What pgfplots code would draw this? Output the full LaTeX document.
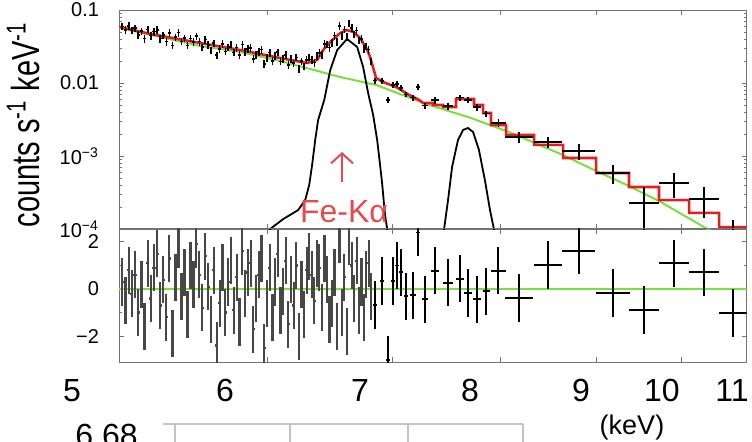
\documentclass[border=0pt]{standalone}
\usepackage{fontspec}
\setmainfont{Liberation Sans}
\usepackage{graphicx}
\usepackage{pgfplots}
\pgfplotsset{compat=1.18}
\usepackage{pgfplotstable}
\usetikzlibrary{arrows.meta}
\definecolor{modelred}{RGB}{228,30,30}
\definecolor{contgreen}{RGB}{120,225,60}
\definecolor{annot}{RGB}{228,75,75}
\definecolor{boxgray}{RGB}{195,195,195}

\pgfplotstableread{
x y r
5.02 0.0597 0.3
5.04 0.0532 -0.5
5.06 0.0604 0.8
5.08 0.0525 -0.2
5.10 0.0562 0.6
5.12 0.0457 -1.0
5.14 0.0513 0.2
5.16 0.0407 -1.6
5.18 0.0543 1.1
5.20 0.0447 -0.4
5.22 0.0508 0.9
5.24 0.0535 1.5
5.26 0.0407 -0.7
5.28 0.0453 0.4
5.30 0.0370 -1.2
5.32 0.0484 1.3
5.34 0.0328 -1.9
5.36 0.0425 0.5
5.38 0.0490 1.9
5.40 0.0372 -0.3
5.42 0.0410 0.7
5.44 0.0327 -1.1
5.46 0.0408 1.0
5.48 0.0366 0.2
5.50 0.0437 1.9
5.52 0.0368 0.6
5.54 0.0309 -0.8
5.56 0.0393 1.4
5.58 0.0333 0.1
5.60 0.0280 -1.3
5.62 0.0352 0.8
5.64 0.0240 -2.4
5.66 0.0292 -0.6
5.68 0.0342 0.9
5.70 0.0271 -1.0
5.72 0.0310 0.3
5.74 0.0340 1.2
5.76 0.0263 -0.9
5.78 0.0305 0.5
5.80 0.0242 -1.4
5.82 0.0337 1.6
5.84 0.0269 -0.2
5.86 0.0293 0.7
5.88 0.0301 1.1
5.90 0.0214 -1.7
5.92 0.0245 -0.4
5.94 0.0270 0.6
5.96 0.0288 1.3
5.98 0.0182 -2.5
6.00 0.0223 -0.6
6.02 0.0261 0.9
6.04 0.0201 -1.2
6.06 0.0236 0.3
6.08 0.0265 1.5
6.10 0.0198 -0.9
6.12 0.0214 -0.1
6.14 0.0244 1.2
6.16 0.0176 -1.5
6.18 0.0215 0.4
6.20 0.0187 -0.7
6.22 0.0224 1.0
6.24 0.0156 -2.0
6.26 0.0199 0.2
6.28 0.0169 -1.1
6.30 0.0207 0.8
6.32 0.0225 1.4
6.34 0.0210 0.6
6.36 0.0190 -0.5
6.38 0.0234 1.1
6.40 0.0258 0.9
6.42 0.0242 -0.8
6.44 0.0344 1.3
6.46 0.0340 0.4
6.48 0.0305 -1.3
6.50 0.0358 -0.6
6.52 0.0446 0.7
6.54 0.0367 -1.6
6.56 0.0604 2.1
6.58 0.0442 -1.0
6.60 0.0543 0.5
6.62 0.0432 -1.8
6.64 0.0655 2.0
6.66 0.0569 1.0
6.68 0.0466 -0.4
6.70 0.0524 1.2
6.72 0.0385 -0.9
6.74 0.0401 0.3
6.76 0.0296 -1.2
6.78 0.0320 0.6
6.80 0.0288 1.1
6.82 0.0198 -0.3
}\dense

\pgfplotstableread{
x ex y ey r
6.855 0.015 0.0108 0.0010 -0.68
6.914 0.020 0.0107 0.0010 0.34
6.966 0.020 0.00585 0.0006 -3.0
7.008 0.020 0.0094 0.0008 0.34
7.043 0.018 0.0097 0.0008 1.0
7.077 0.018 0.0086 0.0008 0.72
7.121 0.020 0.0070 0.0006 -0.3
7.182 0.025 0.0063 0.0006 -0.26
7.227 0.022 0.0088 0.0008 2.4
7.290 0.030 0.0049 0.0005 -0.43
7.380 0.040 0.0058 0.0006 0.77
7.499 0.045 0.0048 0.0005 0.26
7.611 0.040 0.0063 0.0006 0.43
7.686 0.040 0.0059 0.0006 -0.17
7.772 0.040 0.0047 0.0005 -0.43
7.860 0.035 0.0038 0.0004 -0.1
7.980 0.075 0.00283 0.00034 0.77
8.185 0.140 0.00182 0.00031 -0.38
8.482 0.150 0.00156 0.00027 1.02
8.811 0.180 0.00117 0.00029 1.62
9.188 0.190 0.000585 0.00017 -0.17
9.546 0.180 0.000228 0.00015 -0.89
9.905 0.180 0.000425 0.000158 1.1
10.277 0.190 0.000258 0.000118 0.72
10.65 0.180 0.000089 0.000045 -1.02
}\sparse

\begin{document}
\begin{tikzpicture}
\path[use as bounding box] (0,0) rectangle (376pt,220.5pt);

% ---------- top panel ----------
\begin{axis}[at={(59.5pt,106pt)}, anchor=south west,
  scale only axis, width=313.75pt, height=109.5pt,
  xmode=log, xmin=5, xmax=10.83,
  xtick={6,7,8,9,10}, xticklabels={},
  tick align=inside, major tick length=2.5pt, minor tick length=1.3pt,
  axis line style={black!55, line width=0.5pt},
  tick style={black!55, line width=0.45pt},
  yticklabel style={font=\fontsize{10}{12}\selectfont, xshift=-6.5pt},
  ymode=log, ymin=1e-4, ymax=0.1,
  ytick={1e-4,1e-3,1e-2,1e-1},
  yticklabels={10\textsuperscript{−4},10\textsuperscript{−3},0.01,0.1}]
% continuum
\addplot[contgreen, line width=1pt] coordinates {
 (5.0,0.0570) (5.008,0.0566) (5.526,0.0321) (5.806,0.0266) (6.098,0.0200)
 (6.327,0.01556) (6.566,0.01208) (6.863,0.0094) (7.299,0.00515)
 (7.705,0.00335) (8.084,0.00213) (8.640,0.00103) (8.998,0.000624)
 (9.371,0.000388) (9.723,0.000242) (10.30,0.000103) (10.837,0.0000515)};
% Gaussian line components
\addplot[black, line width=0.9pt] coordinates {
 (5.98,0.00007) (6.023,1.0e-4) (6.121,1.37e-4) (6.235,1.82e-4) (6.289,2.49e-4)
 (6.320,4.01e-4) (6.343,7.53e-4) (6.367,1.66e-3) (6.390,3.11e-3) (6.438,5.85e-3)
 (6.486,0.01507) (6.542,0.0283) (6.622,0.0401) (6.705,0.0311) (6.754,0.01656)
 (6.796,7.30e-3) (6.838,3.65e-3) (6.872,1.66e-3) (6.897,7.53e-4) (6.914,4.27e-4)
 (6.939,1.56e-4) (6.957,1.0e-4) (6.974,7.1e-5)};
\addplot[black, line width=0.9pt] coordinates {
 (7.45,0.00007) (7.463,1.0e-4) (7.499,2.5e-4) (7.536,7.06e-4) (7.592,1.66e-3)
 (7.639,2.27e-3) (7.686,2.42e-3) (7.734,2.13e-3) (7.791,1.21e-3) (7.848,4.69e-4)
 (7.897,1.82e-4) (7.936,1.0e-4) (7.95,0.00007)};
% total model
\addplot[modelred, line width=1.3pt] coordinates {
 (5.0,0.0590) (5.008,0.0585) (5.197,0.0469) (5.526,0.0353) (5.806,0.0283)
 (6.023,0.0234) (6.174,0.0207) (6.304,0.0188) (6.382,0.0207) (6.430,0.0283)
 (6.486,0.0365) (6.566,0.0484) (6.622,0.0532) (6.672,0.0500) (6.730,0.0413)
 (6.788,0.0283) (6.812,0.0227) (6.863,0.0117) (6.923,0.0103) (7.034,0.00882)
 (7.148,0.00685) (7.237,0.00585) (7.272,0.00532)
 (7.36,0.00532) (7.36,0.0050) (7.453,0.0050) (7.453,0.00469) (7.573,0.00469)
 (7.573,0.00604) (7.743,0.00604) (7.743,0.00500) (7.830,0.00500) (7.830,0.00388)
 (7.907,0.00388) (7.907,0.00266) (8.054,0.00266) (8.054,0.00194) (8.337,0.00194)
 (8.337,0.00142) (8.641,0.00142) (8.641,0.000939) (8.998,0.000939) (8.998,0.000585)
 (9.371,0.000585) (9.371,0.000376) (9.723,0.000376) (9.723,0.000249) (10.09,0.000249)
 (10.09,0.000166) (10.47,0.000166) (10.47,0.000106) (10.9,0.000106)};
% data
\addplot[draw=none, mark=none,
  error bars/.cd, y dir=both, y fixed relative=0.12, x dir=both, x fixed=0.01,
  error mark=none, error bar style={draw=black, line width=0.8pt}]
  table[x=x, y=y] {\dense};
\addplot[draw=none, mark=none,
  error bars/.cd, y dir=both, y explicit, x dir=both, x explicit,
  error mark=none, error bar style={draw=black, line width=0.8pt}]
  table[x=x, y=y, x error=ex, y error=ey] {\sparse};
\end{axis}

% ---------- residual panel ----------
\begin{axis}[at={(59.5pt,39.5pt)}, anchor=south west,
  scale only axis, width=313.75pt, height=66.5pt,
  xmode=log, xmin=5, xmax=10.83,
  xtick={6,7,8,9,10}, xticklabels={},
  tick align=inside, major tick length=2.5pt, minor tick length=1.3pt,
  axis line style={black!55, line width=0.5pt},
  tick style={black!55, line width=0.45pt},
  yticklabel style={font=\fontsize{10}{12}\selectfont, xshift=-6.5pt},
  ymin=-3.1, ymax=2.55,
  ytick={-2,0,2}, yticklabels={−2,0,2}, minor ytick={-1,1}]
\addplot[contgreen, line width=0.8pt] coordinates {(5,0) (10.83,0)};
\addplot[draw=none, mark=none,
  error bars/.cd, y dir=both, y fixed=1, x dir=both, x fixed=0.01,
  error mark=none, error bar style={draw=black!72, line width=1.1pt}]
  table[x=x, y=r] {\dense};
\addplot[draw=none, mark=none,
  error bars/.cd, y dir=both, y fixed=1, x dir=both, x explicit,
  error mark=none, error bar style={draw=black, line width=0.9pt}]
  table[x=x, y=r, x error=ex] {\sparse};
\end{axis}

% ---------- annotations ----------
\node[rotate=90] at (11.75pt,158.25pt)
  {\resizebox{102.5pt}{16.5pt}{counts s\textsuperscript{-1} keV\textsuperscript{-1}}};

\draw[annot, line width=1pt, -{Straight Barb[length=5pt,width=11pt]}]
  (171pt,129.5pt) -- (171pt,144.5pt);
\node[anchor=base, text=annot, font=\fontsize{16}{19}\selectfont] at (172pt,109.5pt) {Fe-Kα};

\begin{scope}[every node/.style={anchor=base, font=\fontsize{16}{19}\selectfont}]
\node at (36pt,20pt) {5};
\node at (112.5pt,20pt) {6};
\node at (180pt,20pt) {7};
\node at (235pt,20pt) {8};
\node at (290.5pt,20pt) {9};
\node at (331pt,20pt) {10};
\node at (366pt,20pt) {11};
\node at (53.25pt,-2.5pt) {6.68};
\end{scope}
\node[anchor=base, font=\fontsize{13.5}{16}\selectfont] at (316pt,3.5pt) {(keV)};

\draw[boxgray, line width=0.6pt] (81.5pt,8.5pt) -- (261.5pt,8.5pt);
\draw[boxgray, line width=0.6pt] (87.5pt,8.5pt) -- (87.5pt,-2pt);
\draw[boxgray, line width=0.6pt] (145pt,8.5pt) -- (145pt,-2pt);
\draw[boxgray, line width=0.6pt] (204pt,8.5pt) -- (204pt,-2pt);
\draw[boxgray, line width=0.6pt] (261.5pt,8.5pt) -- (261.5pt,-2pt);
\end{tikzpicture}
\end{document}
